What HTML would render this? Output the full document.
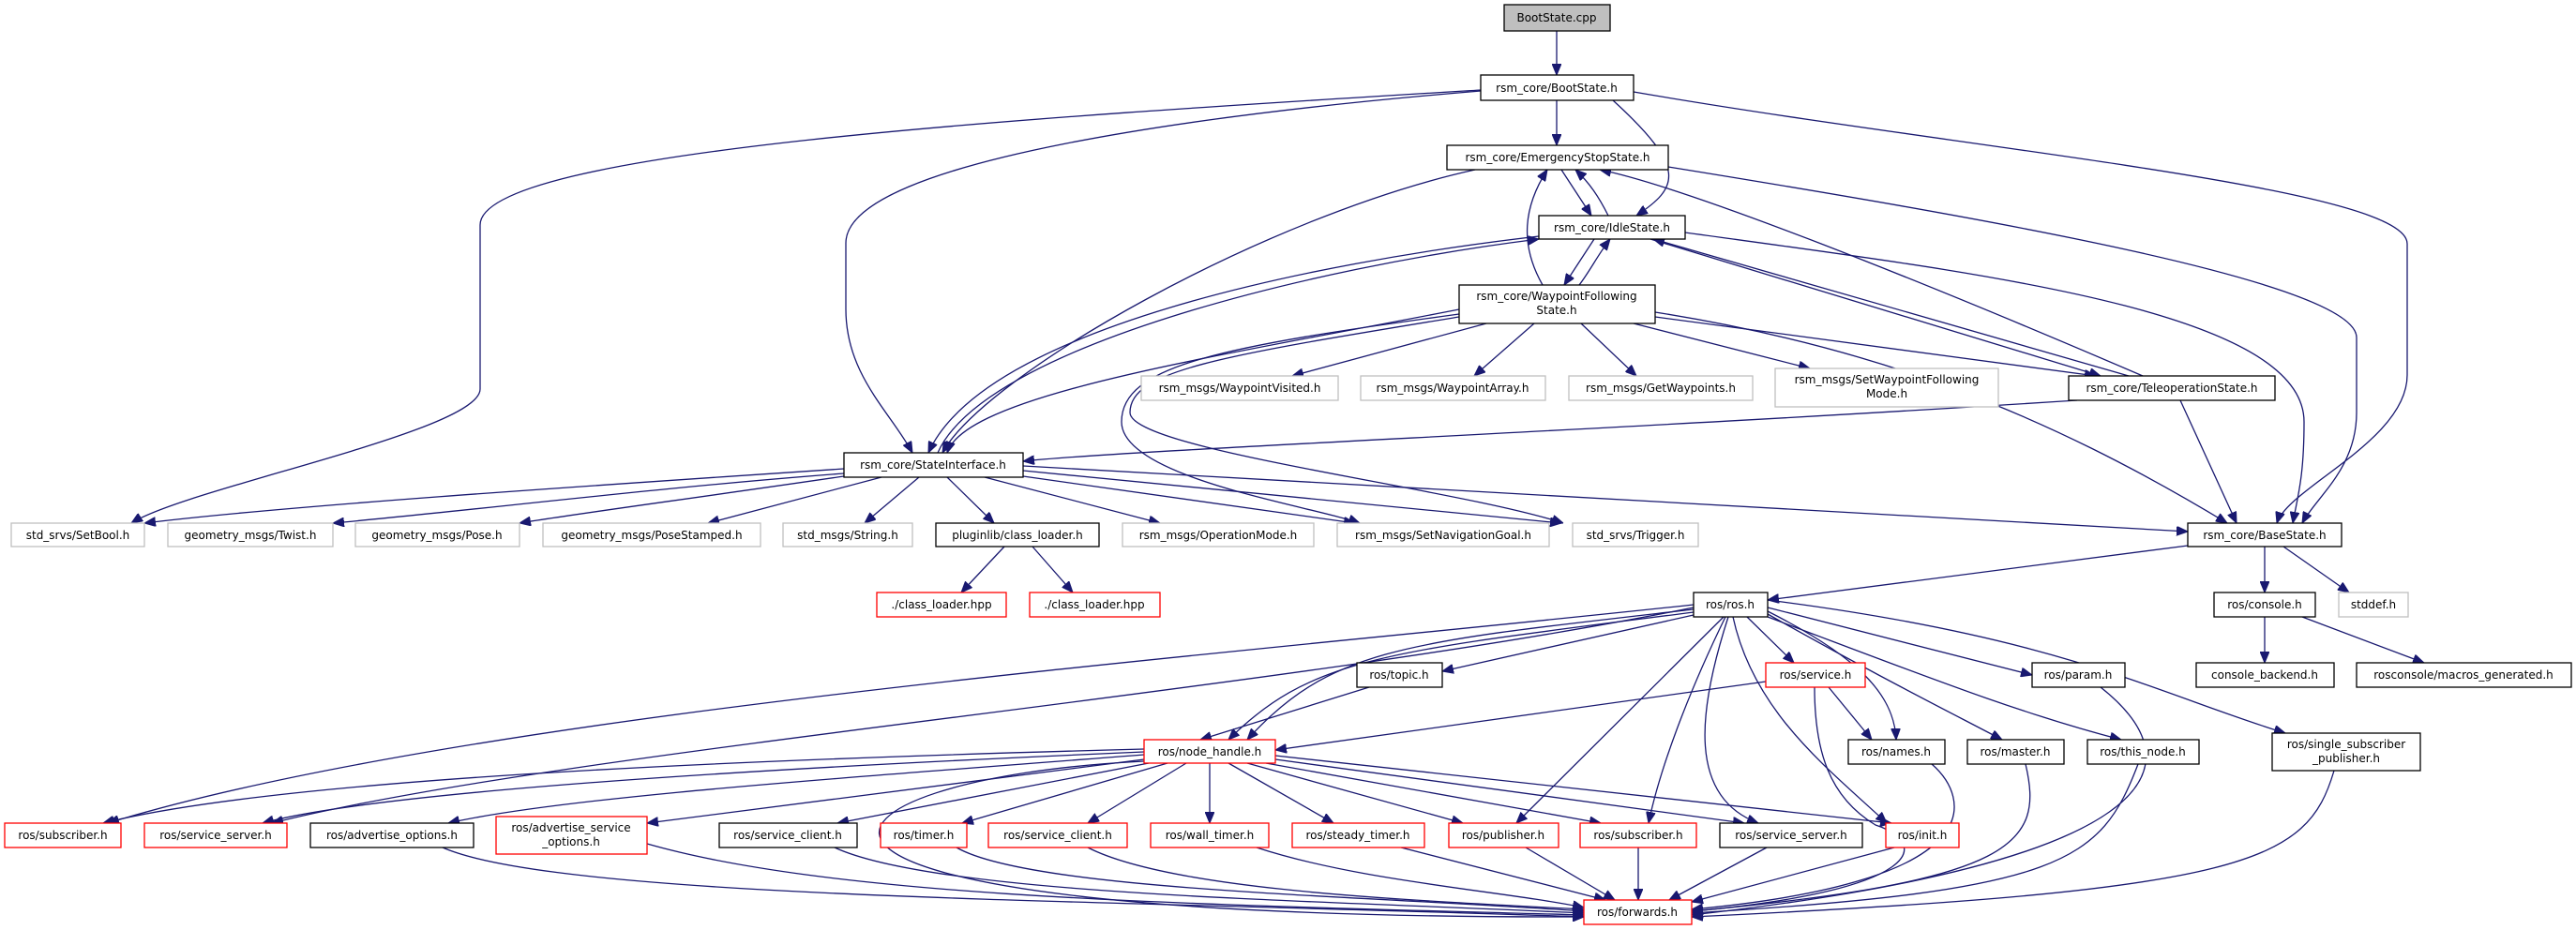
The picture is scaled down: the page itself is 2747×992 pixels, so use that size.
<!DOCTYPE html>
<html><head><meta charset="utf-8"><style>
html,body{margin:0;padding:0;background:#fff;}
svg{display:block;}
text{font-family:"DejaVu Sans","Liberation Sans",sans-serif;font-size:12px;fill:#000;text-anchor:middle;}
.k{fill:#fff;stroke:#000;stroke-width:1.3;}
.g{fill:#fff;stroke:#bfbfbf;stroke-width:1.3;}
.r{fill:#fff;stroke:#ff0000;stroke-width:1.3;}
.e{fill:none;stroke:#191970;stroke-width:1.3;}
</style></head><body>
<svg width="2747" height="992" viewBox="0 0 2747 992" xmlns="http://www.w3.org/2000/svg">
<defs><marker id="a" markerWidth="12" markerHeight="10" refX="12" refY="5" orient="auto" markerUnits="userSpaceOnUse"><path d="M0,0 L12,5 L0,10 z" fill="#191970" stroke="#191970"/></marker></defs>
<g class="e" marker-end="url(#a)">
<path d="M1660,33 L1660,80"/>
<path d="M1660,107 L1660,155"/>
<path d="M1720,107 C1800,180 1790,200 1745,230"/>
<path d="M1579,97 C1300,120 900,170 902,260 L902,330 C902,400 950,440 973,483"/>
<path d="M1579,96 C1100,125 512,160 512,240 L512,415 C512,460 200,520 140,558"/>
<path d="M1742,98 C2100,160 2567,200 2567,260 L2567,400 C2567,470 2440,520 2428,558"/>
<path d="M1573,181 C1350,230 1050,400 1005,483"/>
<path d="M1665,181 L1697,230"/>
<path d="M1715,230 C1705,210 1695,195 1680,181"/>
<path d="M1779,178 C2100,230 2513,300 2513,360 L2513,440 C2513,500 2470,530 2455,558"/>
<path d="M1645,304 C1620,260 1625,220 1650,181"/>
<path d="M2285,401 C2050,300 1800,200 1706,181"/>
<path d="M1641,252 C1400,280 1050,350 990,483"/>
<path d="M1000,483 C1050,370 1400,285 1641,255"/>
<path d="M1556,330 C1300,380 1030,420 1010,483"/>
<path d="M2215,427 C1700,460 1200,480 1091,492"/>
<path d="M1700,255 L1668,304"/>
<path d="M1684,304 C1695,290 1705,270 1717,255"/>
<path d="M1760,255 L2240,401"/>
<path d="M2270,401 L1763,255"/>
<path d="M1797,248 C2100,290 2457,330 2457,450 C2457,510 2450,530 2445,558"/>
<path d="M1585,345 L1378,401"/>
<path d="M1636,345 L1572,401"/>
<path d="M1686,345 L1745,401"/>
<path d="M1742,345 L1930,393"/>
<path d="M1765,338 L2235,401"/>
<path d="M1765,333 C2000,370 2180,440 2375,558"/>
<path d="M1556,335 C1300,370 1196,390 1196,450 C1196,510 1400,540 1450,558"/>
<path d="M1556,338 C1300,380 1205,395 1205,440 C1205,480 1550,520 1667,558"/>
<path d="M2325,427 L2385,558"/>
<path d="M900,500 C600,520 300,540 154,558"/>
<path d="M900,505 C700,520 500,545 355,558"/>
<path d="M900,508 C750,530 600,550 554,558"/>
<path d="M940,509 L755,558"/>
<path d="M980,509 L922,558"/>
<path d="M1010,509 L1060,558"/>
<path d="M1050,509 L1237,558"/>
<path d="M1091,508 L1445,558"/>
<path d="M1091,502 L1665,558"/>
<path d="M1091,497 L2333,567"/>
<path d="M1071,583 L1025,632"/>
<path d="M1101,583 L1144,632"/>
<path d="M2333,582 L1885,640"/>
<path d="M2415,583 L2415,632"/>
<path d="M2435,583 L2505,632"/>
<path d="M2415,658 L2415,707"/>
<path d="M2455,658 L2585,707"/>
<path d="M1806,645 C1300,700 500,760 115,878"/>
<path d="M1806,648 C1350,740 600,800 290,878"/>
<path d="M1806,650 C1500,685 1420,690 1330,789"/>
<path d="M1806,653 C1480,695 1400,700 1310,789"/>
<path d="M1806,656 L1538,716"/>
<path d="M1863,658 L1913,707"/>
<path d="M1885,648 L2167,720"/>
<path d="M1885,652 C1980,700 2020,740 2022,789"/>
<path d="M1885,655 C2000,720 2080,760 2135,789"/>
<path d="M1885,658 C2050,720 2150,760 2262,789"/>
<path d="M1885,640 C2200,680 2300,740 2437,782"/>
<path d="M1838,658 L1617,878"/>
<path d="M1840,658 C1800,740 1770,820 1758,878"/>
<path d="M1843,658 C1810,760 1800,850 1875,878"/>
<path d="M1848,658 C1870,760 1950,820 2012,878"/>
<path d="M1460,733 L1280,789"/>
<path d="M1883,727 L1360,800"/>
<path d="M1950,733 L1996,789"/>
<path d="M1935,733 C1935,800 1950,850 2000,880 C2060,900 2050,950 1804,972"/>
<path d="M1220,799 C800,810 300,830 110,878"/>
<path d="M1220,802 C800,820 400,845 280,878"/>
<path d="M1220,805 C900,830 600,850 478,878"/>
<path d="M1220,810 L690,878"/>
<path d="M1225,814 L893,878"/>
<path d="M1245,814 L1026,878"/>
<path d="M1265,814 L1160,878"/>
<path d="M1290,814 L1290,878"/>
<path d="M1310,814 L1422,878"/>
<path d="M1330,814 L1560,878"/>
<path d="M1350,814 L1707,878"/>
<path d="M1360,810 L1860,878"/>
<path d="M1360,806 L2017,878"/>
<path d="M1220,812 C850,830 700,980 1689,978"/>
<path d="M472,904 C600,960 1200,960 1689,978"/>
<path d="M690,900 C900,960 1300,965 1689,976"/>
<path d="M890,904 C1000,955 1400,960 1689,974"/>
<path d="M1020,904 C1100,950 1450,955 1689,972"/>
<path d="M1160,904 C1250,950 1500,960 1689,970"/>
<path d="M1340,904 C1450,940 1600,950 1689,968"/>
<path d="M1494,904 L1712,960"/>
<path d="M1627,904 L1722,960"/>
<path d="M1747,904 L1747,960"/>
<path d="M1884,904 L1780,960"/>
<path d="M2020,904 L1804,962"/>
<path d="M2060,815 C2100,850 2130,940 1804,970"/>
<path d="M2160,815 C2180,900 2150,940 1804,972"/>
<path d="M2280,815 C2240,920 2200,950 1804,974"/>
<path d="M2240,733 C2350,820 2300,920 1804,976"/>
<path d="M2489,822 C2460,920 2400,950 1804,978"/>
</g>
<rect x="1604" y="5" width="113" height="28" fill="#bfbfbf" stroke="#000" stroke-width="1.3"/><text x="1660" y="23">BootState.cpp</text>
<rect class="k" x="1579" y="80" width="163" height="27"/><text x="1660" y="98">rsm_core/BootState.h</text>
<rect class="k" x="1543" y="155" width="236" height="26"/><text x="1661" y="172">rsm_core/EmergencyStopState.h</text>
<rect class="k" x="1641" y="230" width="156" height="25"/><text x="1719" y="247">rsm_core/IdleState.h</text>
<rect class="k" x="1556" y="304" width="209" height="41"/><text x="1660" y="320">rsm_core/WaypointFollowing</text><text x="1660" y="335">State.h</text>
<rect class="g" x="1217" y="401" width="210" height="26"/><text x="1322" y="418">rsm_msgs/WaypointVisited.h</text>
<rect class="g" x="1451" y="401" width="197" height="26"/><text x="1549" y="418">rsm_msgs/WaypointArray.h</text>
<rect class="g" x="1673" y="401" width="196" height="26"/><text x="1771" y="418">rsm_msgs/GetWaypoints.h</text>
<rect class="g" x="1893" y="393" width="238" height="41"/><text x="2012" y="409">rsm_msgs/SetWaypointFollowing</text><text x="2012" y="424">Mode.h</text>
<rect class="k" x="2206" y="401" width="220" height="26"/><text x="2316" y="418">rsm_core/TeleoperationState.h</text>
<rect class="k" x="900" y="483" width="191" height="26"/><text x="995" y="500">rsm_core/StateInterface.h</text>
<rect class="k" x="2333" y="558" width="164" height="25"/><text x="2415" y="575">rsm_core/BaseState.h</text>
<rect class="g" x="12" y="558" width="142" height="25"/><text x="83" y="575">std_srvs/SetBool.h</text>
<rect class="g" x="179" y="558" width="176" height="25"/><text x="267" y="575">geometry_msgs/Twist.h</text>
<rect class="g" x="379" y="558" width="175" height="25"/><text x="466" y="575">geometry_msgs/Pose.h</text>
<rect class="g" x="579" y="558" width="232" height="25"/><text x="695" y="575">geometry_msgs/PoseStamped.h</text>
<rect class="g" x="835" y="558" width="138" height="25"/><text x="904" y="575">std_msgs/String.h</text>
<rect class="k" x="998" y="558" width="174" height="25"/><text x="1085" y="575">pluginlib/class_loader.h</text>
<rect class="g" x="1197" y="558" width="204" height="25"/><text x="1299" y="575">rsm_msgs/OperationMode.h</text>
<rect class="g" x="1426" y="558" width="226" height="25"/><text x="1539" y="575">rsm_msgs/SetNavigationGoal.h</text>
<rect class="g" x="1677" y="558" width="134" height="25"/><text x="1744" y="575">std_srvs/Trigger.h</text>
<rect class="r" x="935" y="632" width="138" height="26"/><text x="1004" y="649">./class_loader.hpp</text>
<rect class="r" x="1098" y="632" width="139" height="26"/><text x="1167" y="649">./class_loader.hpp</text>
<rect class="k" x="1806" y="632" width="79" height="26"/><text x="1845" y="649">ros/ros.h</text>
<rect class="k" x="2361" y="632" width="108" height="26"/><text x="2415" y="649">ros/console.h</text>
<rect class="g" x="2494" y="632" width="74" height="26"/><text x="2531" y="649">stddef.h</text>
<rect class="k" x="1447" y="707" width="91" height="26"/><text x="1492" y="724">ros/topic.h</text>
<rect class="r" x="1883" y="707" width="106" height="26"/><text x="1936" y="724">ros/service.h</text>
<rect class="k" x="2167" y="707" width="99" height="26"/><text x="2216" y="724">ros/param.h</text>
<rect class="k" x="2342" y="707" width="147" height="26"/><text x="2415" y="724">console_backend.h</text>
<rect class="k" x="2513" y="707" width="229" height="26"/><text x="2627" y="724">rosconsole/macros_generated.h</text>
<rect class="r" x="1220" y="789" width="140" height="25"/><text x="1290" y="806">ros/node_handle.h</text>
<rect class="k" x="1971" y="789" width="103" height="26"/><text x="2022" y="806">ros/names.h</text>
<rect class="k" x="2098" y="789" width="103" height="26"/><text x="2149" y="806">ros/master.h</text>
<rect class="k" x="2226" y="789" width="119" height="26"/><text x="2285" y="806">ros/this_node.h</text>
<rect class="k" x="2423" y="782" width="158" height="40"/><text x="2502" y="798">ros/single_subscriber</text><text x="2502" y="813">_publisher.h</text>
<rect class="r" x="5" y="878" width="124" height="26"/><text x="67" y="895">ros/subscriber.h</text>
<rect class="r" x="154" y="878" width="152" height="26"/><text x="230" y="895">ros/service_server.h</text>
<rect class="k" x="331" y="878" width="174" height="26"/><text x="418" y="895">ros/advertise_options.h</text>
<rect class="r" x="529" y="871" width="161" height="40"/><text x="609" y="887">ros/advertise_service</text><text x="609" y="902">_options.h</text>
<rect class="k" x="767" y="878" width="147" height="26"/><text x="840" y="895">ros/service_client.h</text>
<rect class="r" x="939" y="878" width="92" height="26"/><text x="985" y="895">ros/timer.h</text>
<rect class="r" x="1054" y="878" width="148" height="26"/><text x="1128" y="895">ros/service_client.h</text>
<rect class="r" x="1227" y="878" width="126" height="26"/><text x="1290" y="895">ros/wall_timer.h</text>
<rect class="r" x="1378" y="878" width="141" height="26"/><text x="1448" y="895">ros/steady_timer.h</text>
<rect class="r" x="1545" y="878" width="117" height="26"/><text x="1603" y="895">ros/publisher.h</text>
<rect class="r" x="1685" y="878" width="124" height="26"/><text x="1747" y="895">ros/subscriber.h</text>
<rect class="k" x="1834" y="878" width="152" height="26"/><text x="1910" y="895">ros/service_server.h</text>
<rect class="r" x="2011" y="878" width="78" height="26"/><text x="2050" y="895">ros/init.h</text>
<rect class="r" x="1689" y="960" width="115" height="26"/><text x="1746" y="977">ros/forwards.h</text>
</svg>
</body></html>
